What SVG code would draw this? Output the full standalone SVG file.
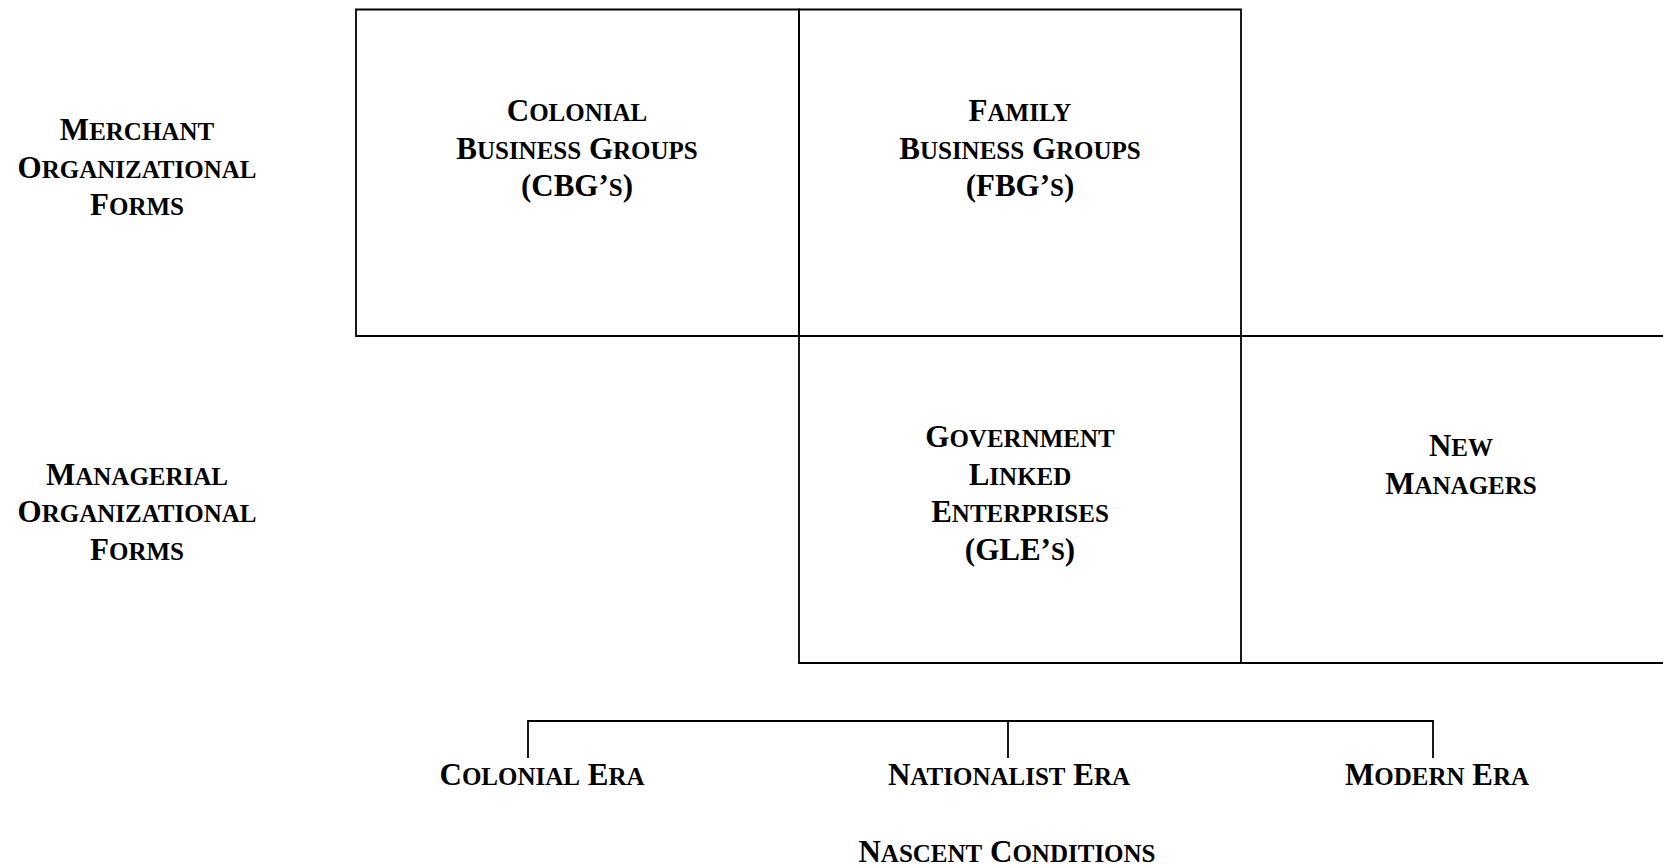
<svg xmlns="http://www.w3.org/2000/svg" width="1663" height="866" viewBox="0 0 1663 866">
<style>
text{font-family:"Liberation Serif","Times New Roman",serif;font-weight:bold;font-size:31px;fill:#000;text-anchor:middle}
.s{font-size:25px}
.ln{stroke:#000;stroke-width:1.8;fill:none}
</style>
<rect width="1663" height="866" fill="#fff"/>
<g id="row-labels">
<g id="merchant">
<text x="137" y="140">M<tspan class="s">ERCHANT</tspan></text>
<text x="137" y="177.5">O<tspan class="s">RGANIZATIONAL</tspan></text>
<text x="137" y="215">F<tspan class="s">ORMS</tspan></text>
</g>
<g id="managerial">
<text x="137" y="484.5">M<tspan class="s">ANAGERIAL</tspan></text>
<text x="137" y="522">O<tspan class="s">RGANIZATIONAL</tspan></text>
<text x="137" y="559.5">F<tspan class="s">ORMS</tspan></text>
</g>
</g>
<g id="cbg">
<path class="ln" d="M356,9.5 H799 V336 H356 Z"/>
<text x="577" y="121">C<tspan class="s">OLONIAL</tspan></text>
<text x="577" y="158.5">B<tspan class="s">USINESS</tspan> G<tspan class="s">ROUPS</tspan></text>
<text x="577" y="196">(CBG’<tspan class="s">S</tspan>)</text>
</g>
<g id="fbg">
<path class="ln" d="M799,9.5 H1241 V336 H799 Z"/>
<text x="1020" y="121">F<tspan class="s">AMILY</tspan></text>
<text x="1020" y="158.5">B<tspan class="s">USINESS</tspan> G<tspan class="s">ROUPS</tspan></text>
<text x="1020" y="196">(FBG’<tspan class="s">S</tspan>)</text>
</g>
<g id="gle">
<path class="ln" d="M799,336 H1241 V663 H799 Z"/>
<text x="1020" y="447">G<tspan class="s">OVERNMENT</tspan></text>
<text x="1020" y="484.5">L<tspan class="s">INKED</tspan></text>
<text x="1020" y="522">E<tspan class="s">NTERPRISES</tspan></text>
<text x="1020" y="559.5">(GLE’<tspan class="s">S</tspan>)</text>
</g>
<g id="new-managers">
<path class="ln" d="M1241,336 H1663 M1241,663 H1663"/>
<text x="1461" y="456">N<tspan class="s">EW</tspan></text>
<text x="1461" y="494">M<tspan class="s">ANAGERS</tspan></text>
</g>
<g id="connectors">
<path class="ln" d="M528,758 V721 H1433 V758 M1008,721 V758"/>
</g>
<g id="eras">
<text x="542" y="785">C<tspan class="s">OLONIAL</tspan> E<tspan class="s">RA</tspan></text>
<text x="1009" y="785">N<tspan class="s">ATIONALIST</tspan> E<tspan class="s">RA</tspan></text>
<text x="1437" y="785">M<tspan class="s">ODERN</tspan> E<tspan class="s">RA</tspan></text>
<text x="1007" y="862">N<tspan class="s">ASCENT</tspan> C<tspan class="s">ONDITIONS</tspan></text>
</g>
</svg>
